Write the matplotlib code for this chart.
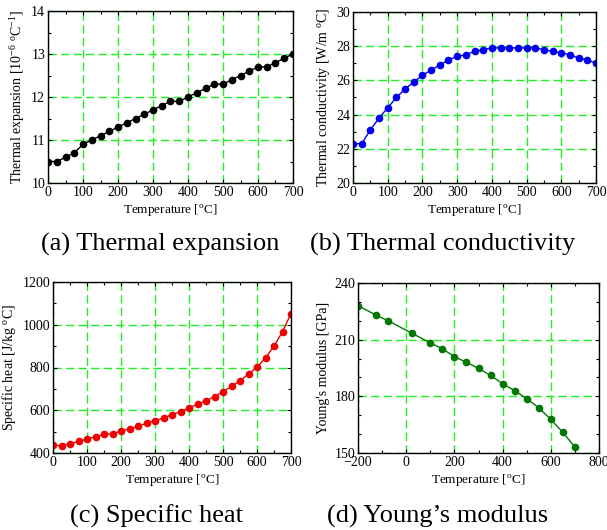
import matplotlib
matplotlib.use("Agg")
import matplotlib.pyplot as plt
from matplotlib.ticker import MultipleLocator

plt.rcParams['font.family'] = ['Liberation Serif', 'DejaVu Serif']
plt.rcParams['mathtext.fontset'] = 'custom'
plt.rcParams['mathtext.rm'] = 'Liberation Serif'
plt.rcParams['mathtext.it'] = 'Liberation Serif:italic'

# temperatures for panels a-c
temp = [0, 25, 50, 75, 100, 125, 150, 175, 200, 225, 250, 275, 300, 325, 350,
        375, 400, 425, 450, 475, 500, 525, 550, 575, 600, 625, 650, 675, 700]

expansion = [10.5, 10.5, 10.6, 10.7, 10.9, 11.0, 11.1, 11.2, 11.3, 11.4, 11.5,
             11.6, 11.7, 11.8, 11.9, 11.9, 12.0, 12.1, 12.2, 12.3, 12.3, 12.4,
             12.5, 12.6, 12.7, 12.7, 12.8, 12.9, 13.0]

conductivity = [22.3, 22.3, 23.1, 23.8, 24.4, 25.0, 25.5, 25.9, 26.3, 26.6, 26.9,
                27.2, 27.4, 27.5, 27.7, 27.8, 27.9, 27.9, 27.9, 27.9, 27.9, 27.9,
                27.8, 27.7, 27.6, 27.5, 27.3, 27.2, 27.0]

spec_heat = [436, 434, 443, 454, 465, 476, 487, 491, 502, 513, 524, 540, 552, 563,
             579, 594, 611, 628, 644, 664, 687, 712, 737, 770, 801, 846, 900, 968, 1052]

# Young's modulus
temp_e = [-200, -125, -75, 25, 100, 150, 200, 250, 300, 350, 400, 450, 500,
          550, 600, 650, 700]
modulus = [228, 223, 220, 213.3, 208.3, 205.2, 201.0, 198.0, 194.8, 191.1, 186.7,
           183.0, 178.8, 173.9, 167.8, 160.9, 153.2]

W, H = 607, 530
fig = plt.figure(figsize=(W / 100, H / 100), dpi=100)


def make_ax(l, r, t, b):
    return fig.add_axes([l / W, (H - b) / H, (r - l) / W, (b - t) / H])


def style(ax, xlim, xmaj, xmin, ylim, ymaj, ymin, ylabel):
    ax.set_xlim(*xlim)
    ax.set_ylim(*ylim)
    ax.xaxis.set_major_locator(MultipleLocator(xmaj))
    ax.xaxis.set_minor_locator(MultipleLocator(xmin))
    ax.yaxis.set_major_locator(MultipleLocator(ymaj))
    ax.yaxis.set_minor_locator(MultipleLocator(ymin))
    ax.tick_params(which='both', direction='in', top=True, right=True,
                   labelsize=10, pad=2)
    ax.tick_params(which='major', length=3, width=0.8)
    ax.tick_params(which='minor', length=2, width=0.8)
    ax.grid(True, which='major', color='#22ee22', linestyle=(0, (6, 3)),
            linewidth=1.0)
    ax.set_axisbelow(True)
    for s in ax.spines.values():
        s.set_linewidth(1.0)
    ax.set_xlabel(r'Temperature [$^{\mathrm{o}}$C]', fontsize=9.5, labelpad=2)
    ax.set_ylabel(ylabel, fontsize=10, labelpad=3)


ax = make_ax(48, 293, 11, 183)
ax.plot(temp, expansion, '-o', color='black', ms=4.5, lw=1)
style(ax, (0, 700), 100, 50, (10, 14), 1, 0.5,
      r'Thermal expansion [10$^{-6}$ $^{\mathrm{o}}$C$^{-1}$]')

ax = make_ax(353, 596, 12, 183)
ax.plot(temp, conductivity, '-o', color='#0000ee', ms=4.5, lw=1)
style(ax, (0, 700), 100, 50, (20, 30), 2, 1,
      r'Thermal conductivity [W/m $^{\mathrm{o}}$C]')

ax = make_ax(53, 291, 282, 453)
ax.plot(temp, spec_heat, '-o', color='#ee0000', ms=4.5, lw=1)
style(ax, (0, 700), 100, 50, (400, 1200), 200, 100,
      r'Specific heat [J/kg $^{\mathrm{o}}$C]')

ax = make_ax(358, 599, 283, 453)
ax.plot(temp_e, modulus, '-o', color='#007700', ms=4.5, lw=1)
style(ax, (-200, 800), 200, 100, (150, 240), 30, 10,
      "Young's modulus [GPa]")

fig.text(160 / W, 1 - 244 / H, '(a) Thermal expansion', ha='center', va='center',
         fontsize=19)
fig.text(443 / W, 1 - 244 / H, '(b) Thermal conductivity', ha='center', va='center',
         fontsize=19)
fig.text(156 / W, 1 - 516 / H, '(c) Specific heat', ha='center', va='center',
         fontsize=19)
fig.text(438 / W, 1 - 516 / H, u'(d) Young\u2019s modulus', ha='center', va='center',
         fontsize=19)

fig.savefig('out.png', dpi=100)
